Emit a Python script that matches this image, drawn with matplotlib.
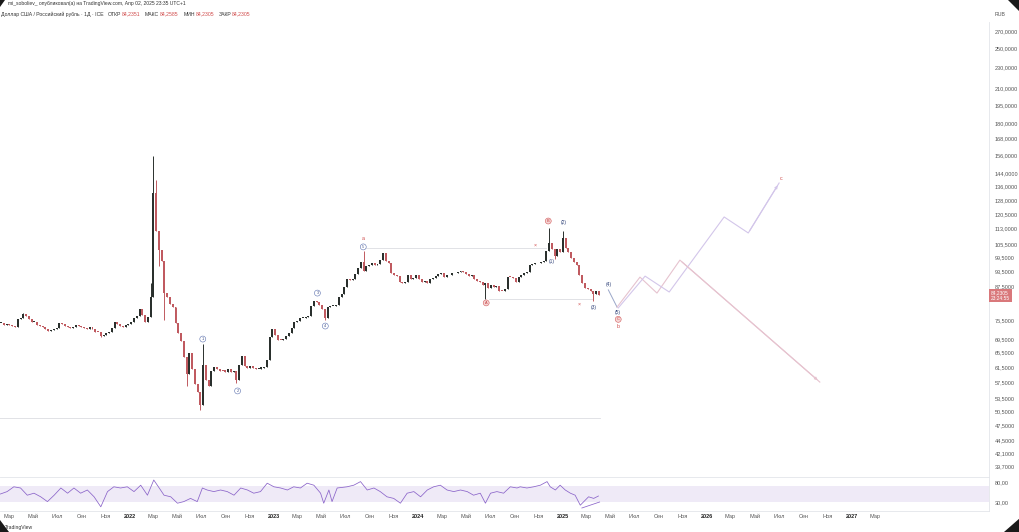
import matplotlib
matplotlib.use('Agg')
import matplotlib.pyplot as plt
import matplotlib.dates as mdates
from matplotlib.patches import Polygon
import numpy as np
import pandas as pd

plt.rcParams['font.family'] = ['Liberation Sans', 'DejaVu Sans']

# weekly closes USD/RUB (ICE), weeks starting on Monday
c2021 = [74.5, 74.0, 74.4,
         74.0, 73.5, 73.3, 76.0, 76.4,
         77.6, 76.8, 76.0, 74.8,
         74.8, 73.8, 73.6, 73.4, 72.8,
         72.1, 72.4, 72.6, 73.0,
         74.6, 74.2, 73.6, 73.2,
         73.0, 73.4, 74.0, 73.6, 73.2,
         72.9, 72.7, 73.3, 72.6,
         71.8, 71.6, 70.4, 70.9,
         71.4, 71.6, 73.0, 74.8, 74.2,
         73.6, 73.4, 73.8, 74.4]
c2022 = [75.0, 76.2, 77.0, 79.2, 77.2,
         75.0, 76.5, 83.5, 132.0,
         112.0, 103.0, 98.0, 85.0,
         83.5, 81.0, 80.2, 74.5,
         71.5, 69.0, 64.2, 59.5, 65.5,
         61.0, 57.0, 55.0, 52.0,
         62.0, 58.0, 56.5, 60.5,
         61.5, 61.0, 60.5, 60.3, 60.2,
         60.8, 60.0, 60.5, 58.0,
         62.0, 64.5, 61.8, 61.2, 61.6,
         61.3, 60.8, 61.0, 61.2,
         61.5, 63.3, 70.0, 72.8]
c2023 = [70.6, 69.3, 69.2, 69.6, 70.5,
         71.3, 73.0, 74.8, 75.2,
         76.2, 76.4, 76.6, 77.0,
         80.5, 82.2, 81.8, 80.8,
         79.4, 76.2, 80.2, 80.5, 80.5,
         80.8, 83.5, 84.8, 87.5,
         90.5, 90.3, 90.5, 92.5, 95.0,
         97.5, 94.0, 95.8, 96.5,
         97.0, 96.5, 96.8, 98.5,
         101.5, 98.0, 97.0, 93.0, 92.0,
         91.8, 89.5, 88.8, 89.5,
         92.0, 90.5, 91.0, 92.0]
c2024 = [90.5, 89.5, 89.8, 89.0, 90.5,
         91.0, 91.8, 92.6, 92.8,
         91.5, 92.0, 92.2, 92.8,
         93.0, 93.5, 94.0, 93.2, 92.5,
         91.8, 92.0, 90.5, 89.8,
         89.5, 88.0, 88.8, 87.0,
         88.0, 87.5, 87.8, 86.0, 85.9,
         86.5, 91.5, 91.2, 91.0,
         89.5, 91.5, 92.0, 92.8, 93.5,
         96.5, 96.8, 97.0, 97.2,
         97.5, 98.0, 102.5, 106.0,
         103.5, 100.0, 103.5, 102.0, 108.5]
c2025 = [104.0, 102.0, 99.5, 97.5,
         96.5, 92.0, 88.8, 87.0,
         86.5, 85.8, 84.6, 85.9, 84.23]

wick_high = {'2021-04-05': 78.0, '2022-02-21': 89.0, '2022-02-28': 156.0,
             '2022-03-07': 140.0, '2022-07-04': 68.0, '2023-08-14': 102.5,
             '2024-11-25': 113.5, '2024-12-30': 112.0}
wick_low = {'2021-10-18': 70.0, '2022-03-14': 96.0, '2022-03-28': 75.5,
            '2022-05-23': 56.5, '2022-06-27': 50.8, '2022-09-26': 57.2,
            '2023-05-08': 75.5, '2024-06-17': 83.0, '2024-12-09': 99.0,
            '2025-03-17': 82.2}

rsi_dates = ['2021-02-08', '2021-02-25', '2021-03-14', '2021-03-31', '2021-04-17', '2021-05-04',
             '2021-05-21', '2021-06-07', '2021-06-24', '2021-07-11', '2021-07-28', '2021-08-13',
             '2021-08-30', '2021-09-16', '2021-10-03', '2021-10-20', '2021-11-06', '2021-11-22',
             '2021-12-09', '2021-12-26', '2022-01-12', '2022-01-29', '2022-02-15', '2022-03-03',
             '2022-03-12', '2022-03-29', '2022-04-15', '2022-05-02', '2022-05-18', '2022-06-04',
             '2022-06-21', '2022-07-04', '2022-07-16', '2022-08-02', '2022-08-19', '2022-09-05',
             '2022-09-22', '2022-10-09', '2022-10-26', '2022-11-11', '2022-11-28', '2022-12-15',
             '2023-01-01', '2023-01-18', '2023-02-04', '2023-02-20', '2023-03-09', '2023-03-26',
             '2023-04-12', '2023-04-29', '2023-05-07', '2023-05-20', '2023-05-28', '2023-06-10',
             '2023-07-05', '2023-07-22', '2023-08-08', '2023-08-25', '2023-09-11', '2023-09-27',
             '2023-10-14', '2023-10-31', '2023-11-17', '2023-12-04', '2023-12-21', '2024-01-07',
             '2024-01-24', '2024-02-09', '2024-02-26', '2024-03-14', '2024-03-31', '2024-04-17',
             '2024-05-04', '2024-05-20', '2024-06-06', '2024-06-19', '2024-07-02', '2024-07-18',
             '2024-08-04', '2024-08-21', '2024-09-07', '2024-09-15', '2024-10-02', '2024-10-19',
             '2024-11-05', '2024-11-22', '2024-11-30', '2024-12-13', '2024-12-25', '2025-01-07',
             '2025-01-20', '2025-02-01', '2025-02-14', '2025-02-27', '2025-03-07', '2025-03-20',
             '2025-04-01']
rsi_vals = [50, 56, 68, 65, 47, 52,
            43, 31, 47, 65, 52, 65,
            52, 60, 43, 18, 56, 68,
            65, 68, 56, 72, 47, 85,
            72, 47, 43, 27, 31, 39,
            31, 65, 60, 56, 60, 56,
            47, 65, 60, 52, 56, 77,
            68, 65, 60, 68, 65, 77,
            72, 52, 27, 60, 31, 65,
            68, 72, 81, 60, 65, 56,
            43, 39, 27, 52, 56, 43,
            60, 68, 72, 60, 56, 60,
            56, 47, 52, 27, 52, 56,
            52, 68, 65, 68, 65, 68,
            72, 81, 68, 60, 72, 60,
            52, 47, 22, 35, 43, 39,
            45]

price_ticks = [270, 250, 230, 210, 195, 180, 168, 156, 144, 136, 128, 120.5, 113,
               105.5, 99.5, 93.5, 87.5, 75.5, 69.5, 65.5, 61.5, 57.5, 53.5, 50.5,
               47.5, 44.5, 42.1, 39.7]

# wave labels: (text, date, price, style)
wave_labels = [('1', '2022-07-05', 69.5, 'num'), ('2', '2022-10-01', 55.3, 'num'),
               ('3', '2023-04-21', 85.1, 'num'), ('4', '2023-05-11', 73.6, 'num'),
               ('5', '2023-08-15', 104.3, 'num'), ('a', '2023-08-15', 108.3, 'red'),
               ('A', '2024-06-21', 81.5, 'redc'), ('B', '2024-11-25', 116.9, 'redc'),
               ('(1)', '2024-12-05', 97.6, 'par'), ('(2)', '2025-01-02', 115.9, 'par'),
               ('(3)', '2025-03-19', 80.0, 'par'), ('(4)', '2025-04-26', 88.2, 'par'),
               ('(5)', '2025-05-21', 78.0, 'par'), ('C', '2025-05-21', 75.8, 'redc'),
               ('b', '2025-05-21', 73.4, 'red'), ('×', '2024-10-23', 105.2, 'red'),
               ('×', '2025-02-12', 81.1, 'red'), ('c', '2026-07-07', 141.0, 'red')]

hlines = [('2023-08-15', '2024-11-20', 103.8), ('2024-06-29', '2025-03-15', 82.9),
          ('2021-02-01', '2025-04-05', 49.1)]

path_45 = (['2025-04-26', '2025-05-18'], [86.3, 80.0])
path_down = (['2025-05-18', '2025-07-15', '2025-08-27', '2025-10-24', '2026-10-13'],
             [80.0, 91.3, 85.1, 98.4, 57.5])
path_up = (['2025-05-21', '2025-07-28', '2025-09-27', '2026-02-13', '2026-04-15', '2026-07-02'],
           [79.7, 91.7, 85.5, 119.0, 110.9, 138.2])

month_ticks = ['2021-03-01', '2021-05-01', '2021-07-01', '2021-09-01', '2021-11-01',
               '2022-01-01', '2022-03-01', '2022-05-01', '2022-07-01', '2022-09-01', '2022-11-01',
               '2023-01-01', '2023-03-01', '2023-05-01', '2023-07-01', '2023-09-01', '2023-11-01',
               '2024-01-01', '2024-03-01', '2024-05-01', '2024-07-01', '2024-09-01', '2024-11-01',
               '2025-01-01', '2025-03-01', '2025-05-01', '2025-07-01', '2025-09-01', '2025-11-01',
               '2026-01-01', '2026-03-01', '2026-05-01', '2026-07-01', '2026-09-01', '2026-11-01',
               '2027-01-01', '2027-03-01']
month_names = {3: 'Мар', 5: 'Май', 7: 'Июл', 9: 'Сен', 11: 'Ноя'}

header_pairs = [('ОТКР', '84,2351'), ('МАКС', '84,2585'), ('МИН', '84,2305'), ('ЗАКР', '84,2305')]

# ---- build candles
dates = []
closes = []
for start, vals in [('2021-02-08', c2021), ('2022-01-03', c2022), ('2023-01-02', c2023),
                    ('2024-01-01', c2024), ('2025-01-06', c2025)]:
    dates += list(pd.date_range(start, periods=len(vals), freq='7D'))
    closes += vals
closes = np.array(closes)
opens = np.r_[closes[0], closes[:-1]]
highs = np.maximum(opens, closes)
lows = np.minimum(opens, closes)
keys = [d.strftime('%Y-%m-%d') for d in dates]
for k, v in wick_high.items():
    highs[keys.index(k)] = v
for k, v in wick_low.items():
    lows[keys.index(k)] = v
xd = mdates.date2num(dates) + 2

fig = plt.figure(figsize=(10.2, 5.32), dpi=100)
W, H = 1020, 532
ax = fig.add_axes([0, (H - 477) / H, 989 / W, (477 - 22) / H])
ax2 = fig.add_axes([0, (H - 511) / H, 989 / W, (511 - 477) / H], sharex=ax)

up_col, dn_col = '#2a302d', '#c05a60'
cols = np.where(closes >= opens, up_col, dn_col)
ax.vlines(xd, lows, highs, colors=cols, lw=0.7)
ax.bar(xd, np.maximum(np.abs(closes - opens), 0.35), bottom=np.minimum(opens, closes),
       width=5.0, color=cols, linewidth=0)

ax.set_yscale('log')
ax.set_ylim(37.85, 280.9)
ax.set_xlim(mdates.datestr2num('2021-02-07'), mdates.datestr2num('2027-12-15'))
ax.yaxis.tick_right()
ax.set_yticks(price_ticks)
ax.set_yticklabels([f'{v:.4f}'.replace('.', ',') for v in price_ticks])
ax.yaxis.set_minor_locator(matplotlib.ticker.NullLocator())
ax.tick_params(axis='y', length=0, pad=4, labelsize=4, labelcolor='#555555')
ax.tick_params(axis='x', length=0, labelbottom=False)
for s in ['top', 'left', 'bottom']:
    ax.spines[s].set_visible(False)
ax.spines['right'].set_color('#e3e5ea')
ax.spines['right'].set_linewidth(0.6)

# drawings
for d0, d1, p in hlines:
    ax.plot(mdates.datestr2num([d0, d1]), [p, p], color='#dcdde2', lw=0.6)
ax.plot(mdates.datestr2num(path_45[0]), path_45[1], color='#9aa6c8', lw=0.7)
ax.plot(mdates.datestr2num(path_down[0]), path_down[1], color='#e6c3cf', lw=0.8)
ax.plot(mdates.datestr2num(path_up[0]), path_up[1], color='#d3c6ea', lw=0.8)
for px, c in [(path_down, '#e6c3cf'), (path_up, '#d3c6ea')]:
    xs = mdates.datestr2num(px[0][-2:])
    ax.annotate('', xy=(xs[1], px[1][-1]), xytext=(xs[0], px[1][-2]),
                arrowprops=dict(arrowstyle='-|>', color=c, lw=0.8, mutation_scale=4))

for txt, d, p, st in wave_labels:
    x = mdates.datestr2num(d)
    if st == 'num':
        ax.text(x, p, txt, fontsize=2.8, color='#3f4f86', ha='center', va='center',
                bbox=dict(boxstyle='circle,pad=0.25', fc='white', ec='#5d72b0', lw=0.4))
    elif st == 'redc':
        ax.text(x, p, txt, fontsize=2.8, color='#c23b3b', ha='center', va='center',
                bbox=dict(boxstyle='circle,pad=0.25', fc='#f6d5d5', ec='#d35e5e', lw=0.4))
    elif st == 'par':
        ax.text(x, p, txt, fontsize=3.6, color='#33457a', ha='center', va='center')
    else:
        ax.text(x, p, txt, fontsize=3.8, color='#cf4a4a', ha='center', va='center')

# last price label
ax.text(1.002, 84.23, '84,2305\n23:24:55', transform=ax.get_yaxis_transform(), fontsize=3.5,
        color='white', ha='left', va='center', linespacing=1.1,
        bbox=dict(boxstyle='square,pad=0.35', fc='#d9787b', ec='none'))

# RSI pane
ax2.axhspan(30, 70, color='#7e57c2', alpha=0.12, lw=0)
ax2.plot(mdates.datestr2num(rsi_dates), rsi_vals, color='#8a63c9', lw=0.55)
ax2.plot(mdates.datestr2num(['2025-02-18', '2025-04-04']), [15, 30], color='#8a63c9', lw=0.55)
ax2.set_ylim(7.5, 92.5)
ax2.yaxis.tick_right()
ax2.set_yticks([80, 30])
ax2.set_yticklabels(['80,00', '30,00'])
ax2.tick_params(axis='y', length=0, pad=4, labelsize=4, labelcolor='#555555')
ax2.spines['left'].set_visible(False)
for s in ['top', 'bottom', 'right']:
    ax2.spines[s].set_color('#e3e5ea')
    ax2.spines[s].set_linewidth(0.6)

tick_x = mdates.datestr2num(month_ticks)
labels = []
for t in month_ticks:
    ts = pd.Timestamp(t)
    labels.append(str(ts.year) if ts.month == 1 else month_names[ts.month])
ax2.set_xticks(tick_x)
ax2.set_xticklabels(labels)
ax2.tick_params(axis='x', length=0, pad=2.5, labelsize=4, labelcolor='#555555')
for lab, t in zip(ax2.get_xticklabels(), month_ticks):
    if t.endswith('01-01'):
        lab.set_fontweight('bold')
        lab.set_color('#222222')

# header
fig.text(8 / W, 1 - 4 / H, 'mi_soboliev_ опубликовал(а) на TradingView.com, Апр 02, 2025 23:35 UTC+1',
         fontsize=3.6, color='#333333', va='center')
renderer = fig.canvas.get_renderer()
t = fig.text(1 / W, 1 - 14 / H, 'Доллар США / Российский рубль · 1Д · ICE', fontsize=3.7,
             color='#333333', va='center')
xpos = t.get_window_extent(renderer).x1 + 4
for lab, val in header_pairs:
    t = fig.text(xpos / W, 1 - 14 / H, lab, fontsize=3.7, color='#333333', va='center')
    xpos = t.get_window_extent(renderer).x1 + 0.5
    t = fig.text(xpos / W, 1 - 14 / H, val, fontsize=3.7, color='#d04a4a', va='center')
    xpos = t.get_window_extent(renderer).x1 + 5
fig.text(995 / W, 1 - 14 / H, 'RUB', fontsize=3.8, color='#555555', va='center')
fig.text(5 / W, 1 - 528 / H, 'TradingView', fontsize=3.6, color='#333333', va='center')

# screenshot corners
for pts in [[(0, 532), (9, 532), (0, 520)], [(1004, 532), (1020, 532), (1020, 518)],
            [(1008, 0), (1020, 0), (1020, 12)], [(0, 0), (5, 0), (0, 7)]]:
    fig.patches.append(Polygon([(x / W, 1 - y / H) for x, y in pts], closed=True,
                               transform=fig.transFigure, fc='#1a1a1a', ec='none'))
fig.patches.append(Polygon([(0, 1 - 526 / H), (4 / W, 1 - 526 / H), (4 / W, 1 - 530 / H),
                            (0, 1 - 530 / H)], closed=True, transform=fig.transFigure,
                           fc='#1a1a1a', ec='none'))

fig.savefig('out.png', dpi=100, facecolor='white')
